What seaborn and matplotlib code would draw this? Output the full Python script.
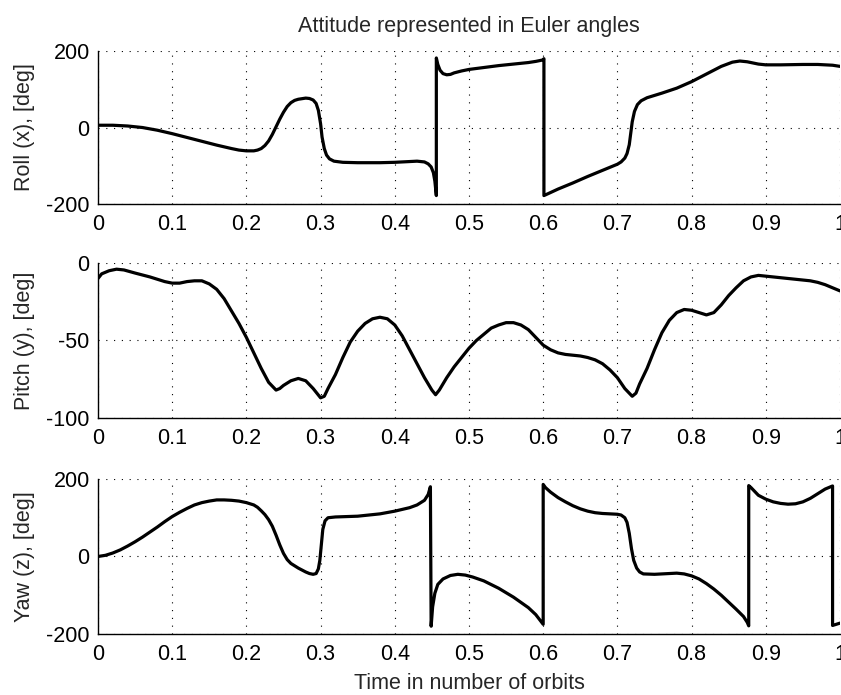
import matplotlib
matplotlib.use("Agg")
import matplotlib.pyplot as plt
import seaborn as sns
import pandas as pd

# ---- data ----
t_roll = [0, 0.02, 0.04, 0.06, 0.08, 0.10, 0.12, 0.14, 0.16, 0.18, 0.19, 0.20, 0.21,
          0.215, 0.22, 0.225, 0.23, 0.235, 0.24, 0.245, 0.25, 0.255, 0.26, 0.265,
          0.27, 0.28, 0.285, 0.29, 0.294, 0.297, 0.300, 0.302, 0.305, 0.308, 0.312,
          0.318, 0.33, 0.35, 0.38, 0.40, 0.42, 0.43, 0.44, 0.445, 0.449, 0.452,
          0.454, 0.456, 0.456, 0.458, 0.461, 0.465, 0.47, 0.475, 0.48, 0.49, 0.50,
          0.52, 0.54, 0.56, 0.58, 0.59, 0.60, 0.601, 0.601, 0.61, 0.62, 0.64, 0.66,
          0.68, 0.69, 0.70, 0.705, 0.71, 0.713, 0.716, 0.718, 0.72, 0.723, 0.727,
          0.732, 0.74, 0.75, 0.76, 0.78, 0.80, 0.82, 0.84, 0.855, 0.865, 0.875,
          0.89, 0.90, 0.92, 0.95, 0.97, 0.99, 1.0]
roll = [6, 6, 4, 0, -7, -16, -26, -36, -46, -55, -59, -61, -61,
        -59, -55, -47, -35, -18, 2, 22, 40, 55, 65, 71,
        74, 77, 76, 72, 63, 45, 10, -25, -55, -72, -82,
        -88, -91, -92, -92, -91, -89, -88, -90, -95, -103, -118,
        -140, -178, 182, 165, 150, 141, 138, 139, 143, 148, 152,
        157, 162, 166, 170, 173, 177, 180, -178, -170, -161, -145, -128,
        -112, -104, -96, -90, -80, -68, -45, -15, 15, 42, 60,
        70, 78, 84, 90, 103, 120, 140, 160, 171, 174, 172,
        166, 164, 164, 165, 165, 163, 160]

t_pitch = [0, 0.005, 0.015, 0.025, 0.035, 0.05, 0.07, 0.09, 0.10, 0.11, 0.12, 0.13,
           0.14, 0.15, 0.16, 0.17, 0.18, 0.19, 0.20, 0.21, 0.22, 0.23, 0.24, 0.245,
           0.25, 0.26, 0.27, 0.28, 0.29, 0.30, 0.305, 0.31, 0.32, 0.33, 0.34, 0.35,
           0.36, 0.37, 0.38, 0.39, 0.40, 0.41, 0.42, 0.43, 0.44, 0.45, 0.455, 0.46,
           0.47, 0.48, 0.49, 0.50, 0.51, 0.52, 0.53, 0.54, 0.55, 0.56, 0.57, 0.58,
           0.59, 0.60, 0.61, 0.62, 0.63, 0.64, 0.65, 0.66, 0.67, 0.68, 0.69, 0.70,
           0.71, 0.72, 0.725, 0.73, 0.74, 0.75, 0.76, 0.77, 0.78, 0.79, 0.80, 0.81,
           0.82, 0.83, 0.84, 0.85, 0.86, 0.87, 0.88, 0.89, 0.90, 0.92, 0.94, 0.96,
           0.97, 0.98, 0.99, 1.0]
pitch = [-10, -7, -5, -4, -4.5, -6.5, -9, -12, -13, -13, -12, -11.5,
         -11.5, -13.5, -17, -23, -31, -39, -48, -58, -68, -77, -82, -81,
         -79, -76, -74.5, -76, -81, -87, -86, -81, -72, -61, -51, -44,
         -39, -36, -35, -36, -40, -47, -56, -65, -74, -82, -85, -82,
         -74, -67, -61, -55, -50, -46, -42, -40, -38.5, -38.5, -40, -43,
         -48, -53, -56, -58, -59, -59.5, -60, -61, -62.5, -65, -69, -74,
         -81, -86, -84, -78, -68, -56, -45, -37, -32, -30, -30.5, -32,
         -33.5, -32, -27, -21, -16, -11.5, -9, -8, -8.5, -9.5, -10.5, -11.5,
         -12.5, -14, -16, -18]

t_yaw = [0, 0.01, 0.02, 0.03, 0.04, 0.05, 0.06, 0.07, 0.08, 0.09, 0.10, 0.11, 0.12,
         0.13, 0.14, 0.15, 0.16, 0.17, 0.18, 0.19, 0.20, 0.21, 0.215, 0.22, 0.225,
         0.23, 0.235, 0.24, 0.245, 0.25, 0.255, 0.26, 0.27, 0.28, 0.285, 0.29,
         0.294, 0.297, 0.299, 0.301, 0.303, 0.306, 0.31, 0.32, 0.35, 0.38, 0.40,
         0.42, 0.43, 0.44, 0.445, 0.448, 0.449, 0.451, 0.454, 0.458, 0.465, 0.475,
         0.485, 0.495, 0.505, 0.52, 0.54, 0.56, 0.58, 0.59, 0.60, 0.60, 0.603,
         0.61, 0.62, 0.63, 0.64, 0.65, 0.66, 0.67, 0.68, 0.69, 0.70, 0.705, 0.71,
         0.713, 0.716, 0.719, 0.722, 0.726, 0.73, 0.735, 0.75, 0.77, 0.78, 0.79,
         0.80, 0.81, 0.82, 0.83, 0.84, 0.85, 0.86, 0.87, 0.875, 0.877, 0.877,
         0.88, 0.885, 0.89, 0.90, 0.91, 0.92, 0.93, 0.94, 0.95, 0.96, 0.97, 0.98,
         0.99, 0.99, 1.0]
yaw = [0, 3, 9, 17, 27, 38, 50, 63, 76, 90, 103, 114, 124,
       133, 139, 143, 146, 146, 145, 143, 139, 133, 127, 118, 108,
       95, 78, 55, 30, 8, -8, -18, -30, -40, -44, -46,
       -44, -32, -10, 30, 70, 92, 100, 102, 104, 110, 117,
       126, 133, 145, 160, 180, -180, -130, -95, -72, -58, -49,
       -46, -48, -53, -63, -82, -105, -132, -150, -175, 186, 178,
       166, 152, 141, 131, 123, 117, 113, 111, 110, 109, 107, 100,
       88, 60, 20, -10, -30, -40, -45, -46, -44, -43, -45,
       -50, -58, -70, -84, -100, -118, -136, -155, -170, -179, 183,
       178, 168, 158, 148, 141, 137, 135, 136, 141, 150, 162, 174,
       182, -178, -172]

x_ticks = [0, 0.1, 0.2, 0.3, 0.4, 0.5, 0.6, 0.7, 0.8, 0.9, 1]
x_ticklabels = ["0", "0.1", "0.2", "0.3", "0.4", "0.5", "0.6", "0.7", "0.8", "0.9", "1"]
ylabels = ["Roll (x), [deg]", "Pitch (y), [deg]", "Yaw (z), [deg]"]
yticks = [[-200, 0, 200], [-100, -50, 0], [-200, 0, 200]]
title = "Attitude represented in Euler angles"
xlabel = "Time in number of orbits"

# ---- style ----
sns.set_style("white")
plt.rcParams["font.family"] = ["Liberation Sans", "DejaVu Sans"]
plt.rcParams["font.size"] = 15

fig = plt.figure(figsize=(8.41, 6.95), dpi=100)
fig.patch.set_facecolor("white")

positions = [
    [0.1165, 0.7065, 0.8823, 0.2200],
    [0.1165, 0.3986, 0.8823, 0.2230],
    [0.1165, 0.0878, 0.8823, 0.2230],
]
series = [(t_roll, roll), (t_pitch, pitch), (t_yaw, yaw)]

axes = []
for i, (pos, (tt, vv)) in enumerate(zip(positions, series)):
    ax = fig.add_axes(pos)
    df = pd.DataFrame({"t": tt, "v": vv})
    sns.lineplot(data=df, x="t", y="v", ax=ax, sort=False, estimator=None,
                 color="black", linewidth=2.3)
    ax.set_xlim(0, 1)
    ax.set_ylim(yticks[i][0], yticks[i][-1])
    ax.set_xticks(x_ticks)
    ax.set_xticklabels(x_ticklabels)
    ax.set_yticks(yticks[i])
    ax.set_yticklabels([str(v) for v in yticks[i]])
    ax.grid(True, color="black", linestyle=(0, (1, 6)), linewidth=0.8)
    for s in ["top", "right"]:
        ax.spines[s].set_visible(False)
    for s in ["left", "bottom"]:
        ax.spines[s].set_color("black")
        ax.spines[s].set_linewidth(1.0)
    ax.tick_params(direction="in", length=5.5, width=0.8, colors="black",
                   labelsize=15.5)
    ax.tick_params(axis="x", pad=7)
    ax.tick_params(axis="y", pad=6)
    ax.set_xlabel("")
    ax.set_ylabel(ylabels[i], fontsize=15.5)
    ax.yaxis.set_label_coords(-0.085, 0.5)
    axes.append(ax)

axes[0].set_title(title, fontsize=15.5, pad=14)
axes[2].set_xlabel(xlabel, fontsize=15.5, labelpad=6)

fig.savefig("out.png", dpi=100, facecolor="white")
